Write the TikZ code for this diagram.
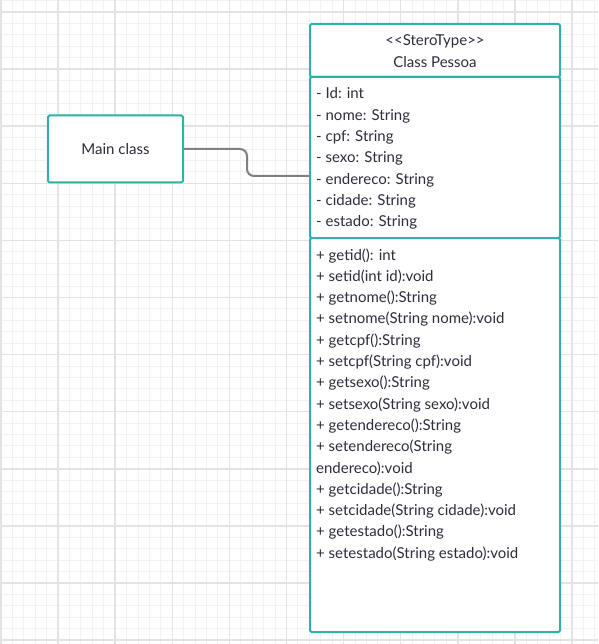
\documentclass[tikz,border=0pt]{standalone}
\usepackage{fontspec}
\setmainfont{Lato}
\usetikzlibrary{positioning}

\definecolor{verde}{RGB}{43,178,172}
\definecolor{escuro}{RGB}{45,45,60}

\begin{document}
\begin{tikzpicture}[x=1pt, y=-1pt, caixa/.style={draw=verde, line width=2pt, fill=white, rounded corners=1.5pt, minimum width=250pt, outer sep=0pt}, texto/.style={font=\fontsize{15}{18}\selectfont, text=escuro, inner sep=0pt}, fina/.style={draw=black!5, line width=1pt}, grossa/.style={draw=black!11, line width=1.5pt}, conector/.style={draw=black!50, line width=2pt, rounded corners=7pt}]
            \useasboundingbox[fill=white] (0,0) rectangle (598,644);
            % Grade
            \foreach \i in {0,...,52} \draw[fina] ({1+11.42*\i},0) -- ({1+11.42*\i},644);
            \foreach \i in {-1,...,56} \draw[fina] (0,{12+11.42*\i}) -- (598,{12+11.42*\i});
            \foreach \i in {0,...,10} \draw[grossa] ({1+57.1*\i},0) -- ({1+57.1*\i},644);
            \foreach \i in {0,...,11} \draw[grossa] (0,{12+57.1*\i}) -- (598,{12+57.1*\i});
            % Nodes
            \node[caixa, minimum width=135pt, minimum height=67pt, outer sep=1pt, texto] (M) at (115.5,149) {Main class};
            \node[caixa, minimum height=53pt, anchor=north west] (H) at (310,24) {};
            \node[caixa, minimum height=161pt, below=0pt of H] (A) {};
            \node[caixa, minimum height=394pt, below=0pt of A] (B) {};
            \node[texto, anchor=base] (st) at (435,45.7) {<\kern0pt<SteroType>\kern0pt>};
            \node[texto, anchor=base] (nm) at (435,67.3) {Class Pessoa};
            \foreach \t [count=\i] in {- Id: int, - nome: String, - cpf: String, - sexo: String, - endereco: String, - cidade: String, - estado: String}
                \node[texto, anchor=base west] (a\i) at (316,{99+21.3*(\i-1)}) {\t};
            \foreach \t [count=\i] in {+ getid(): int, + setid(int id):void, + getnome():String, + setnome(String nome):void, + getcpf():String, + setcpf(String cpf):void, + getsexo():String, + setsexo(String sexo):void, + getendereco():String, + setendereco(String, endereco):void, + getcidade():String, + setcidade(String cidade):void, + getestado():String, + setestado(String estado):void}
                \node[texto, anchor=base west] (m\i) at (316,{260+21.3*(\i-1)}) {\t};
            \coordinate (d) at ([xshift=-1pt]A.west |- 0,176);
            % Arestas
            \draw[conector] (M.east) -- (247,149) -- (247,176) -- (d);
        \end{tikzpicture}
\end{document}
